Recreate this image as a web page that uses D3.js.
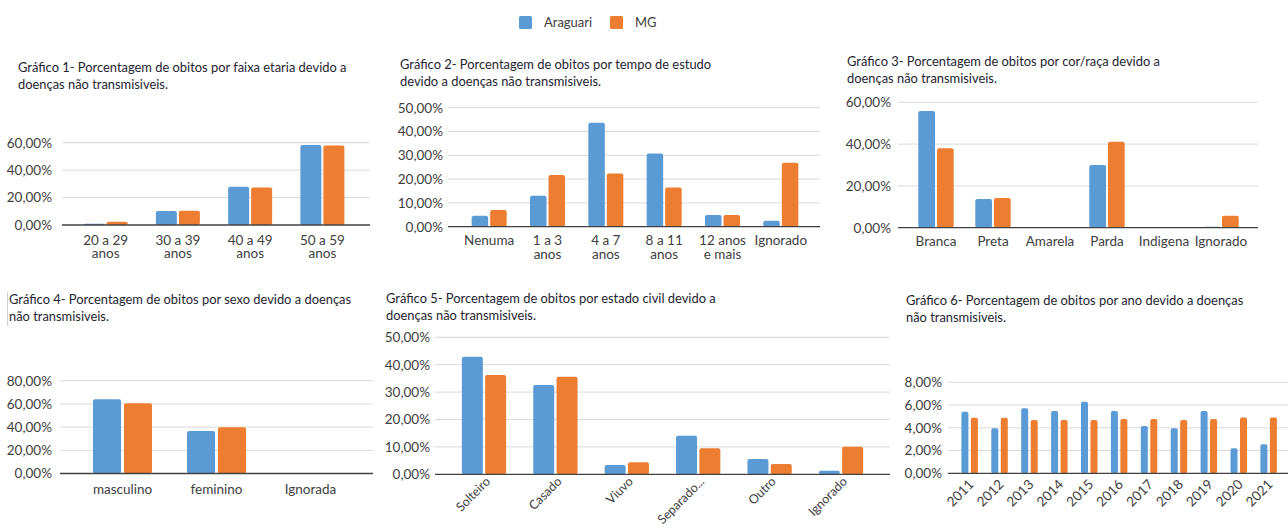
<!DOCTYPE html>
<html>
<head>
<meta charset="utf-8">
<script src="https://cdn.jsdelivr.net/npm/d3@7"></script>
<style>
  body { margin: 0; background: #fff; }
  svg { display: block; font-family: Lato, "Open Sans", sans-serif; }
</style>
</head>
<body>
<svg id="chart" width="1288" height="530"></svg>
<script>
// series names
const seriesNames = ["Araguari", "MG"];
const colors = ["#5b9bd5", "#ed7d31"];

// Gráfico 1 - faixa etaria
const ageCats = ["20 a 29\nanos", "30 a 39\nanos", "40 a 49\nanos", "50 a 59\nanos"];
const ageAraguari = [0.9, 10.2, 27.9, 58.4];
const ageMG = [2.4, 10.3, 27.4, 58.0];

// Gráfico 2 - tempo de estudo
const studyCats = ["Nenuma", "1 a 3\nanos", "4 a 7\nanos", "8 a 11\nanos", "12 anos\ne mais", "Ignorado"];
const studyAraguari = [4.6, 13.0, 43.7, 30.8, 4.9, 2.5];
const studyMG = [7.0, 21.7, 22.4, 16.5, 4.9, 26.9];

// Gráfico 3 - cor/raça
const raceCats = ["Branca", "Preta", "Amarela", "Parda", "Indigena", "Ignorado"];
const raceAraguari = [55.8, 13.7, 0, 30.0, 0, 0.5];
const raceMG = [38.0, 14.2, 0, 41.1, 0, 5.7];

// Gráfico 4 - sexo
const sexCats = ["masculino", "feminino", "Ignorada"];
const sexAraguari = [64.0, 36.6, 0];
const sexMG = [60.5, 39.8, 0];

// Gráfico 5 - estado civil
const civilCats = ["Solteiro", "Casado", "Viuvo", "Separado...", "Outro", "Ignorado"];
const civilAraguari = [42.9, 32.6, 3.4, 14.1, 5.6, 1.3];
const civilMG = [36.2, 35.6, 4.4, 9.5, 3.8, 10.1];

// Gráfico 6 - ano
const years = ["2011", "2012", "2013", "2014", "2015", "2016", "2017", "2018", "2019", "2020", "2021"];
const yearAraguari = [5.42, 3.96, 5.71, 5.48, 6.30, 5.48, 4.16, 3.96, 5.48, 2.20, 2.55];
const yearMG = [4.89, 4.89, 4.69, 4.69, 4.69, 4.77, 4.77, 4.69, 4.77, 4.90, 4.90];

const svg = d3.select("#chart");
const fmt = v => d3.format(".2f")(v).replace(".", ",") + "%";

// legend
const legend = svg.append("g").attr("transform", "translate(519,16)");
seriesNames.forEach((name, i) => {
  const off = [0, 91][i];
  legend.append("rect").attr("x", off).attr("y", 0).attr("width", 13).attr("height", 13)
    .attr("rx", 1.5).attr("fill", colors[i]);
  legend.append("text").attr("x", off + 25).attr("y", 11).attr("font-size", 13)
    .attr("fill", "#404040").text(name);
});

function drawPanel(p) {
  const g = svg.append("g");

  // title
  p.title.forEach((line, i) => {
    g.append("text").attr("x", p.titleX).attr("y", p.titleY + i * 16.5)
      .attr("font-size", 12.9).attr("fill", "#1e2530").text(line);
  });
  if (p.titleBar) {
    g.append("line").attr("x1", p.titleX - 1.5).attr("x2", p.titleX - 1.5)
      .attr("y1", p.titleY - 12).attr("y2", p.titleY + 22)
      .attr("stroke", "#d0d0d0");
  }

  const y = d3.scaleLinear().domain([0, p.max]).range([p.y0, p.yTop]);
  const x = d3.scaleBand().domain(p.cats).range(p.band);
  const ticks = d3.range(0, p.max + p.step / 2, p.step);

  // gridlines
  g.append("g").selectAll("line").data(ticks.filter(t => t > 0)).join("line")
    .attr("x1", p.gridX[0]).attr("x2", p.gridX[1])
    .attr("y1", d => y(d)).attr("y2", d => y(d))
    .attr("stroke", "#d9d9d9").attr("stroke-width", 1);

  // y tick labels
  g.append("g").selectAll("text").data(ticks).join("text")
    .attr("x", p.labelX).attr("y", d => y(d) + 4.8)
    .attr("text-anchor", "end").attr("font-size", 13.5).attr("fill", "#404040")
    .text(fmt);

  // bars
  const bw = p.barW, gap = p.gap;
  const series = [p.a, p.b];
  series.forEach((vals, si) => {
    g.append("g").selectAll("rect").data(p.cats).join("rect")
      .attr("x", (c) => x(c) + x.bandwidth() / 2 + (si === 0 ? -gap / 2 - bw : gap / 2))
      .attr("width", bw)
      .attr("y", (c, i) => y(vals[i]))
      .attr("height", (c, i) => p.y0 - y(vals[i]))
      .attr("rx", Math.min(2, bw / 4))
      .attr("fill", colors[si]);
  });

  // baseline
  g.append("line").attr("x1", p.gridX[0]).attr("x2", p.gridX[1])
    .attr("y1", p.y0).attr("y2", p.y0)
    .attr("stroke", "#404040").attr("stroke-width", 1.3);

  // category labels
  const cats = g.append("g").attr("font-size", p.catSize || 13.5).attr("fill", "#404040");
  if (p.rotate) {
    cats.selectAll("text").data(p.cats).join("text")
      .attr("text-anchor", "end")
      .attr("transform", c => `translate(${x(c) + x.bandwidth() / 2 + p.rotDx},${p.y0 + p.rotDy}) rotate(-45)`)
      .text(c => c);
  } else {
    cats.selectAll("text").data(p.cats).join("text")
      .attr("text-anchor", "middle")
      .attr("x", c => x(c) + x.bandwidth() / 2)
      .attr("y", p.y0 + p.catDy)
      .each(function(c) {
        const t = d3.select(this);
        c.split("\n").forEach((line, i) => {
          t.append("tspan").attr("x", x(c) + x.bandwidth() / 2)
            .attr("dy", i === 0 ? 0 : 13.5).text(line);
        });
      });
  }
}

drawPanel({
  title: ["Gráfico 1- Porcentagem de obitos por faixa etaria devido a", "doenças não transmisiveis."],
  titleX: 18, titleY: 72,
  cats: ageCats, a: ageAraguari, b: ageMG,
  max: 60, step: 20, y0: 225, yTop: 142.7,
  gridX: [62, 370], band: [69.5, 358.5], labelX: 52,
  barW: 21, gap: 2, catDy: 19.5
});

drawPanel({
  title: ["Gráfico 2- Porcentagem de obitos por tempo de estudo", "devido a doenças não transmisiveis."],
  titleX: 400, titleY: 69,
  cats: studyCats, a: studyAraguari, b: studyMG,
  max: 50, step: 10, y0: 226.7, yTop: 107.7,
  gridX: [448, 820], band: [460, 810], labelX: 443,
  barW: 16.5, gap: 2, catDy: 18.5
});

drawPanel({
  title: ["Gráfico 3- Porcentagem de obitos por cor/raça devido a", "doenças não transmisiveis."],
  titleX: 847, titleY: 66,
  cats: raceCats, a: raceAraguari, b: raceMG,
  max: 60, step: 20, y0: 227.7, yTop: 102.3,
  gridX: [898, 1258], band: [907.5, 1249.5], labelX: 891,
  barW: 16.7, gap: 2, catDy: 18.5
});

drawPanel({
  title: ["Gráfico 4- Porcentagem de obitos por sexo devido a doenças", "não transmisiveis."],
  titleX: 9, titleY: 304, titleBar: true,
  cats: sexCats, a: sexAraguari, b: sexMG,
  max: 80, step: 20, y0: 473.5, yTop: 380.7,
  gridX: [60, 373], band: [75.5, 357.5], labelX: 52,
  barW: 28, gap: 3, catDy: 20
});

drawPanel({
  title: ["Gráfico 5- Porcentagem de obitos por estado civil devido a", "doenças não transmisiveis."],
  titleX: 386, titleY: 303,
  cats: civilCats, a: civilAraguari, b: civilMG,
  max: 50, step: 10, y0: 474.3, yTop: 337.3,
  gridX: [435, 890], band: [448.3, 876.7], labelX: 430,
  barW: 21, gap: 2.3, rotate: true, rotDx: 7, rotDy: 8, catSize: 12.5
});

drawPanel({
  title: ["Gráfico 6- Porcentagem de obitos por ano devido a doenças", "não transmisiveis."],
  titleX: 906, titleY: 305,
  cats: years, a: yearAraguari, b: yearMG,
  max: 8, step: 2, y0: 473.3, yTop: 382.3,
  gridX: [948, 1288], band: [954.7, 1283.6], labelX: 942,
  barW: 7, gap: 2.5, rotate: true, rotDx: 5, rotDy: 12
});
</script>
</body>
</html>
